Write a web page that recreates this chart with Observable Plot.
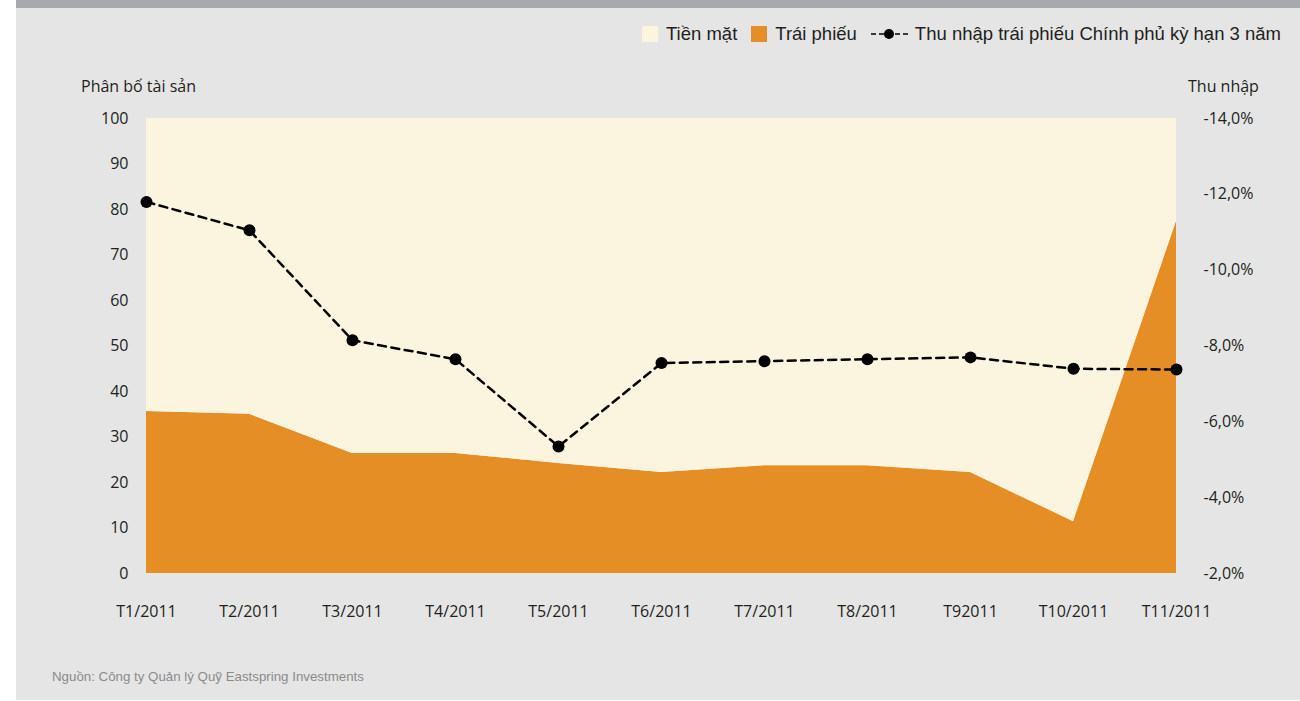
<!DOCTYPE html>
<html>
<head>
<meta charset="utf-8">
<script src="https://cdn.jsdelivr.net/npm/d3@7"></script>
<script src="https://cdn.jsdelivr.net/npm/@observablehq/plot@0.6"></script>
<style>
  html, body { margin: 0; padding: 0; background: #ffffff; width: 1300px; height: 701px; overflow: hidden; }
  #panel { position: absolute; left: 16px; top: 0; width: 1284px; height: 700px; background: #e5e5e5; }
  #topbar { position: absolute; left: 0; top: 0; width: 1284px; height: 8px; background: #a8a9ac; }
  #chart { position: absolute; left: 0; top: 60px; }
  .lbl { position: absolute; font-family: "Open Sans", sans-serif; font-size: 16px; color: #231f20; white-space: nowrap; }
  #legend { position: absolute; top: 23px; right: 19px; font-family: "Liberation Sans", Arial, sans-serif; font-size: 18.5px; color: #231f20; display: flex; align-items: center; white-space: nowrap; }
  .sw { display: inline-block; width: 16px; height: 16px; margin-right: 8px; }
  .item { display: flex; align-items: center; margin-left: 14px; }
  #source { position: absolute; left: 36px; top: 669px; font-family: "Liberation Sans", Arial, sans-serif; font-size: 13.3px; color: #8b8b8b; white-space: nowrap; }
</style>
</head>
<body>
<div id="panel">
  <div id="topbar"></div>
  <div id="legend"></div>
  <div class="lbl" id="ylab" style="left:65px; top:75px;">Phân bố tài sản</div>
  <div class="lbl" id="y2lab" style="left:1172px; top:75px;">Thu nhập</div>
  <div id="chart"></div>
  <div id="source">Nguồn: Công ty Quản lý Quỹ Eastspring Investments</div>
</div>
<script>
// ---- data ----
const months = ["T1/2011", "T2/2011", "T3/2011", "T4/2011", "T5/2011", "T6/2011", "T7/2011", "T8/2011", "T92011", "T10/2011", "T11/2011"];
const bonds  = [35.6, 35.0, 26.4, 26.4, 24.2, 22.2, 23.7, 23.7, 22.2, 11.4, 77.4];
const cash   = [64.4, 65.0, 73.6, 73.6, 75.8, 77.8, 76.3, 76.3, 77.8, 88.6, 22.6];
const yields = [-11.8, -11.05, -8.15, -7.65, -5.35, -7.55, -7.6, -7.65, -7.7, -7.4, -7.38];
const leftTicks  = [0, 10, 20, 30, 40, 50, 60, 70, 80, 90, 100];
const rightTicks = [-14, -12, -10, -8, -6, -4, -2];
const seriesNames = ["Trái phiếu", "Tiền mặt"];
const seriesColors = ["#e68e26", "#fbf4de"];
const yieldName = "Thu nhập trái phiếu Chính phủ kỳ hạn 3 năm";

// ---- build ----
const rows = [];
months.forEach((m, i) => rows.push({month: m, series: seriesNames[0], value: bonds[i]}));
months.forEach((m, i) => rows.push({month: m, series: seriesNames[1], value: cash[i]}));
const yieldRows = months.map((m, i) => ({month: m, v: yields[i]}));

// map right axis (-2 .. -14) onto left scale (0 .. 100)
const toLeft = d3.scaleLinear().domain([-2, -14]).range([0, 100]);
const fmtPct = v => d3.format(".1f")(v).replace("\u2212", "-").replace(".", ",") + "%";

const W = 1284, H = 580;
const chart = Plot.plot({
  width: W,
  height: H,
  marginLeft: 129,
  marginRight: 124,
  marginTop: 58,
  marginBottom: 67,
  style: { fontFamily: "Open Sans, sans-serif", fontSize: "16px", color: "#231f20", background: "transparent", overflow: "visible" },
  x: { type: "point", domain: months, padding: 0, label: null },
  y: { domain: [0, 100], label: null },
  color: { domain: seriesNames, range: seriesColors },
  marks: [
    Plot.areaY(rows, Plot.stackY({ x: "month", y: "value", fill: "series", order: null })),
    Plot.line(yieldRows, { x: "month", y: d => toLeft(d.v), stroke: "#000", strokeWidth: 2.5, strokeDasharray: "8,5.5" }),
    Plot.dot(yieldRows, { x: "month", y: d => toLeft(d.v), r: 6, fill: "#000" }),
    Plot.axisY({ anchor: "left", ticks: leftTicks, tickSize: 0, tickPadding: 17, label: null }),
    Plot.axisY({ anchor: "right", ticks: rightTicks.map(toLeft), tickFormat: v => fmtPct(toLeft.invert(v)), tickSize: 0, tickPadding: 27, textAnchor: "start", label: null }),
    Plot.axisX({ anchor: "bottom", tickSize: 0, tickPadding: 32, label: null })
  ]
});
document.getElementById("chart").appendChild(chart);

// ---- legend ----
const legend = document.getElementById("legend");
seriesNames.slice().reverse().forEach((name) => {
  const idx = seriesNames.indexOf(name);
  const it = document.createElement("div");
  it.className = "item";
  const sw = document.createElement("span");
  sw.className = "sw";
  sw.style.background = seriesColors[idx];
  it.appendChild(sw);
  it.appendChild(document.createTextNode(name));
  legend.appendChild(it);
});
const li = document.createElement("div");
li.className = "item";
li.innerHTML = '<svg width="38" height="14" style="margin-right:6px"><line x1="0" y1="7" x2="38" y2="7" stroke="#000" stroke-width="1.5" stroke-dasharray="5,3"/><circle cx="18" cy="7" r="5" fill="#000"/></svg>';
li.appendChild(document.createTextNode(yieldName));
legend.appendChild(li);
</script>
</body>
</html>
